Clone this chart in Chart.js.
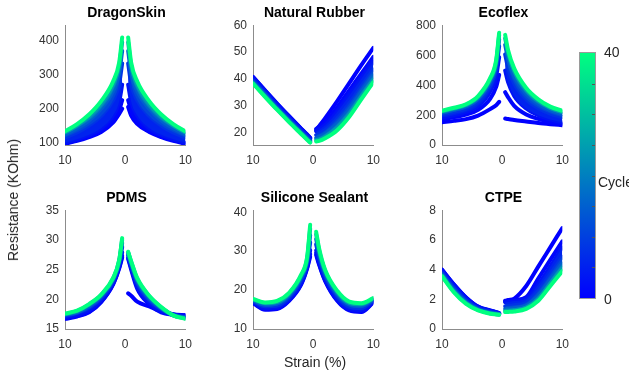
<!DOCTYPE html>
<html>
<head>
<meta charset="utf-8">
<script src="https://cdn.jsdelivr.net/npm/chart.js@4.4.0/dist/chart.umd.min.js"></script>
<style>
body { margin:0; background:#fff; font-family:"Liberation Sans", Arial, sans-serif; }
#wrap { position:relative; width:629px; height:371px; overflow:hidden; }
canvas { position:absolute; }
.ttl { position:absolute; width:200px; text-align:center; font-weight:bold; font-size:14px; line-height:16px; color:#000; }
.lbl { position:absolute; font-size:14px; line-height:16px; color:#262626; white-space:nowrap; }
#cbar { position:absolute; left:579px; top:52px; width:17px; height:247px; box-sizing:border-box;
        background:linear-gradient(to top, rgb(0,0,255), rgb(0,255,128)); border:1px solid #9a9a9a; }
.cbt { position:absolute; right:0; width:3px; height:1px; background:#555; }
</style>
</head>
<body>
<div id="wrap"></div>
<script>
// strain positions of each branch (unloading side is shown mirrored on the left)
const strainLeft = [-10, -8, -6, -4, -2, -1, -0.5];
const strainRight = [0.5, 1, 2, 4, 6, 8, 10];
const strainTicks = [-10, 0, 10];
// cycles that are drawn (row i of every table below)
const cycles = [0, 1, 3, 8, 15, 25, 40];

const dragonLeft = [
  [98, 106, 117, 132, 160, 185, 200],
  [99, 108, 120, 137, 167, 195, 225],
  [101, 111, 124, 143, 180, 220, 270],
  [116, 131, 151, 179, 225, 272, 332],
  [125, 143, 166, 200, 252, 303, 369],
  [131, 151, 177, 214, 270, 324, 394],
  [134, 155, 183, 222, 280, 335, 408]
];
const dragonRight = [
  [205, 180, 156, 132, 117, 106, 98],
  [225, 195, 165, 138, 121, 110, 101],
  [270, 220, 180, 143, 124, 111, 101],
  [332, 272, 225, 179, 151, 131, 116],
  [369, 303, 252, 200, 166, 143, 125],
  [394, 324, 270, 214, 177, 151, 131],
  [408, 335, 280, 222, 183, 155, 134]
];
const dragonTicks = [100, 200, 300, 400];

const rubberLeft = [
  [40.8, 35.8, 30.9, 26.2, 21.6, 19.4, 18.2],
  [40.7, 35.7, 30.8, 26.1, 21.5, 19.3, 18.1],
  [40.3, 35.3, 30.4, 25.8, 21.2, 19.0, 17.8],
  [39.5, 34.6, 29.7, 25.1, 20.6, 18.4, 17.3],
  [39.0, 34.1, 29.2, 24.6, 20.2, 18.0, 16.9],
  [38.5, 33.6, 28.8, 24.2, 19.8, 17.6, 16.6],
  [38.3, 33.4, 28.6, 24.0, 19.6, 17.4, 16.4]
];
const rubberRight = [
  [21.0, 22.5, 25.5, 31.8, 38.5, 45.2, 51.6],
  [21.5, 22.3, 24.0, 29.5, 35.8, 42.0, 48.2],
  [20.6, 21.2, 22.8, 27.8, 33.8, 40.1, 46.3],
  [19.2, 19.7, 21.0, 25.3, 30.9, 37.3, 43.5],
  [18.1, 18.5, 19.7, 23.4, 28.7, 35.2, 41.4],
  [17.3, 17.5, 18.6, 21.9, 26.9, 33.5, 39.7],
  [16.8, 17.0, 18.0, 21.0, 26.0, 32.5, 38.8]
];
const rubberTicks = [20, 30, 40, 50, 60];

const ecoflexLeft = [
  [153, 162, 174, 198, 241, 267, 290],
  [175, 187, 205, 236, 310, 390, 470],
  [185, 200, 222, 262, 360, 460, 590],
  [205, 223, 245, 292, 400, 510, 664],
  [217, 236, 259, 310, 424, 539, 709],
  [226, 245, 269, 322, 440, 559, 739],
  [230, 250, 274, 329, 449, 570, 755]
];
const ecoflexRight = [
  [178, 175, 168, 158, 148, 140, 133],
  [355, 320, 263, 205, 175, 155, 142],
  [500, 420, 330, 245, 200, 172, 152],
  [608, 517, 413, 307, 248, 211, 187],
  [673, 575, 463, 344, 277, 234, 208],
  [716, 614, 497, 369, 296, 249, 222],
  [740, 635, 515, 383, 307, 258, 230]
];
const ecoflexTicks = [0, 200, 400, 600, 800];

const pdmsLeft = [
  [16.7, 17.1, 17.8, 19.5, 22.5, 25.2, 27.0],
  [16.8, 17.2, 17.9, 19.6, 22.6, 25.3, 27.3],
  [17.0, 17.4, 18.2, 19.8, 22.8, 25.6, 27.9],
  [17.2, 17.7, 18.6, 20.2, 23.1, 26.0, 28.8],
  [17.4, 17.8, 18.8, 20.5, 23.3, 26.2, 29.5],
  [17.5, 18.0, 19.1, 20.7, 23.5, 26.5, 30.0],
  [17.6, 18.1, 19.2, 20.8, 23.6, 26.6, 30.3]
];
const pdmsRight = [
  [21.0, 20.6, 19.6, 18.8, 18.0, 17.5, 17.3],
  [26.8, 25.0, 21.8, 19.2, 17.8, 17.4, 17.3],
  [27.0, 25.3, 22.2, 19.5, 18.0, 17.4, 17.2],
  [27.4, 25.7, 22.7, 19.9, 18.3, 17.4, 17.0],
  [27.7, 26.0, 23.1, 20.2, 18.5, 17.3, 16.9],
  [27.9, 26.3, 23.4, 20.5, 18.6, 17.3, 16.8],
  [28.0, 26.4, 23.6, 20.6, 18.7, 17.3, 16.7]
];
const pdmsTicks = [15, 20, 25, 30, 35];

const sealantLeft = [
  [16.5, 14.8, 15.0, 17.1, 21.3, 25.5, 28.5],
  [16.6, 15.0, 15.2, 17.3, 21.5, 25.7, 29.2],
  [16.7, 15.2, 15.4, 17.5, 21.8, 26.1, 30.2],
  [17.0, 15.7, 15.9, 18.0, 22.5, 26.9, 32.2],
  [17.2, 16.1, 16.4, 18.5, 23.1, 27.5, 34.1],
  [17.5, 16.5, 16.8, 18.9, 23.6, 28.1, 35.8],
  [17.6, 16.7, 17.1, 19.2, 23.9, 28.5, 36.8]
];
const sealantRight = [
  [29.0, 26.4, 22.2, 17.1, 14.6, 14.2, 16.7],
  [29.5, 26.7, 22.4, 17.3, 14.8, 14.4, 16.8],
  [30.2, 27.2, 22.8, 17.6, 15.1, 14.7, 16.9],
  [31.7, 28.3, 23.5, 18.3, 15.6, 15.2, 17.2],
  [33.1, 29.3, 24.2, 18.9, 16.2, 15.8, 17.4],
  [34.3, 30.1, 24.8, 19.4, 16.6, 16.2, 17.7],
  [35.0, 30.6, 25.1, 19.7, 16.9, 16.5, 17.8]
];
const sealantTicks = [10, 20, 30, 40];

const ctpeLeft = [
  [4.00, 3.00, 2.13, 1.51, 1.25, 1.14, 1.07],
  [3.98, 2.97, 2.11, 1.50, 1.24, 1.13, 1.06],
  [3.93, 2.92, 2.06, 1.47, 1.22, 1.12, 1.05],
  [3.80, 2.76, 1.93, 1.39, 1.15, 1.07, 1.02],
  [3.69, 2.62, 1.82, 1.33, 1.10, 1.03, 0.99],
  [3.60, 2.52, 1.74, 1.28, 1.06, 1.00, 0.97],
  [3.55, 2.46, 1.69, 1.25, 1.03, 0.98, 0.96]
];
const ctpeRight = [
  [1.90, 1.95, 2.05, 2.90, 4.20, 5.50, 6.80],
  [1.85, 1.88, 1.95, 2.15, 3.40, 4.65, 5.90],
  [1.80, 1.82, 1.88, 2.05, 3.00, 4.20, 5.50],
  [1.54, 1.55, 1.60, 1.77, 2.56, 3.68, 4.86],
  [1.35, 1.36, 1.40, 1.58, 2.25, 3.32, 4.41],
  [1.22, 1.23, 1.26, 1.44, 2.03, 3.06, 4.09],
  [1.14, 1.15, 1.18, 1.36, 1.90, 2.90, 3.90]
];
const ctpeTicks = [0, 2, 4, 6, 8];

const cycleTicks = [0, 40];

// layout: band = first row that is filled down to the row before it
const panels = [
  {title: 'DragonSkin', left: dragonLeft, right: dragonRight, ticks: dragonTicks, min: 94, max: 444, band: 3, x: 65, y: 22, h: 123},
  {title: 'Natural Rubber', left: rubberLeft, right: rubberRight, ticks: rubberTicks, min: 15.5, max: 60, band: 2, x: 253, y: 22, h: 123},
  {title: 'Ecoflex', left: ecoflexLeft, right: ecoflexRight, ticks: ecoflexTicks, min: 0, max: 805, band: 3, x: 442, y: 22, h: 123},
  {title: 'PDMS', left: pdmsLeft, right: pdmsRight, ticks: pdmsTicks, min: 15, max: 35, band: 2, x: 65, y: 207, h: 122},
  {title: 'Silicone Sealant', left: sealantLeft, right: sealantRight, ticks: sealantTicks, min: 9.8, max: 40.6, band: 1, x: 253, y: 207, h: 122},
  {title: 'CTPE', left: ctpeLeft, right: ctpeRight, ticks: ctpeTicks, min: 0, max: 8, band: 3, x: 442, y: 207, h: 122}
];

var FONT = '"Liberation Sans", Arial, sans-serif';
var wrap = document.getElementById('wrap');

function cycleColor(c) {
  var t = c / 40;
  return 'rgb(0,' + Math.round(255 * t) + ',' + Math.round(255 - 127 * t) + ')';
}

function addText(cls, txt, css) {
  var d = document.createElement('div');
  d.className = cls;
  d.textContent = txt;
  d.setAttribute('style', css);
  wrap.appendChild(d);
  return d;
}

panels.forEach(function(p) {
  var padL = 45, padR = 12, padT = 10, padB = 30;
  var cv = document.createElement('canvas');
  cv.width = padL + 123 + padR;
  cv.height = padT + p.h + padB;
  cv.style.left = (p.x - padL) + 'px';
  cv.style.top = (p.y - padT) + 'px';
  wrap.appendChild(cv);

  addText('ttl', p.title, 'left:' + (p.x + 61.5 - 100) + 'px;top:' + (p.y - 18) + 'px;');

  var sets = [];
  [p.left, p.right].forEach(function(branch, b) {
    var xs = b ? strainRight : strainLeft;
    branch.forEach(function(ys, i) {
      var c = cycles[i];
      var prev = i > 0 ? cycles[i - 1] : c;
      sets.push({
        data: xs.map(function(x, j) { return {x: x, y: ys[j]}; }),
        borderColor: cycleColor(c),
        backgroundColor: cycleColor((prev + c) / 2),
        fill: i >= p.band ? '-1' : false,
        order: 40 - c,
        borderWidth: 4,
        borderCapStyle: 'round',
        borderJoinStyle: 'round',
        cubicInterpolationMode: 'monotone',
        pointRadius: 0
      });
    });
  });

  var tickFont = {family: FONT, size: 12};
  new Chart(cv.getContext('2d'), {
    type: 'line',
    data: {datasets: sets},
    options: {
      responsive: false,
      animation: false,
      devicePixelRatio: 1,
      layout: {padding: {top: padT, right: padR, left: 0, bottom: 0}},
      plugins: {legend: {display: false}, tooltip: {enabled: false}, title: {display: false}},
      scales: {
        x: {
          type: 'linear', min: -10, max: 10,
          afterFit: function(s) { s.height = padB; },
          afterBuildTicks: function(s) { s.ticks = strainTicks.map(function(v) { return {value: v}; }); },
          ticks: {font: tickFont, color: '#333', padding: 8, maxRotation: 0, autoSkip: false,
                  callback: function(v) { return String(Math.abs(v)); }},
          grid: {display: false, drawTicks: false},
          border: {display: true, color: '#8c8c8c', width: 1}
        },
        y: {
          type: 'linear', min: p.min, max: p.max,
          afterFit: function(s) { s.width = padL; },
          afterBuildTicks: function(s) { s.ticks = p.ticks.map(function(v) { return {value: v}; }); },
          ticks: {font: tickFont, color: '#333', padding: 6, autoSkip: false},
          grid: {display: false, drawTicks: false},
          border: {display: true, color: '#8c8c8c', width: 1}
        }
      }
    }
  });
});

// shared axis labels
addText('lbl', 'Resistance (KOhm)', 'left:13px;top:200px;transform:translate(-50%,-50%) rotate(-90deg);');
addText('lbl', 'Strain (%)', 'left:315px;top:362px;transform:translate(-50%,-50%);');

// colour bar for the cycle number
var bar = document.createElement('div');
bar.id = 'cbar';
wrap.appendChild(bar);
for (var c = 5; c < 40; c += 5) {
  var t = document.createElement('div');
  t.className = 'cbt';
  t.style.top = Math.round(245 * (1 - c / 40)) + 'px';
  bar.appendChild(t);
}
cycleTicks.forEach(function(v) {
  addText('lbl', String(v), 'left:604px;top:' + (52 + 247 * (1 - v / 40) - 8) + 'px;');
});
addText('lbl', 'Cycle', 'left:598px;top:174px;');
</script>
</body>
</html>
